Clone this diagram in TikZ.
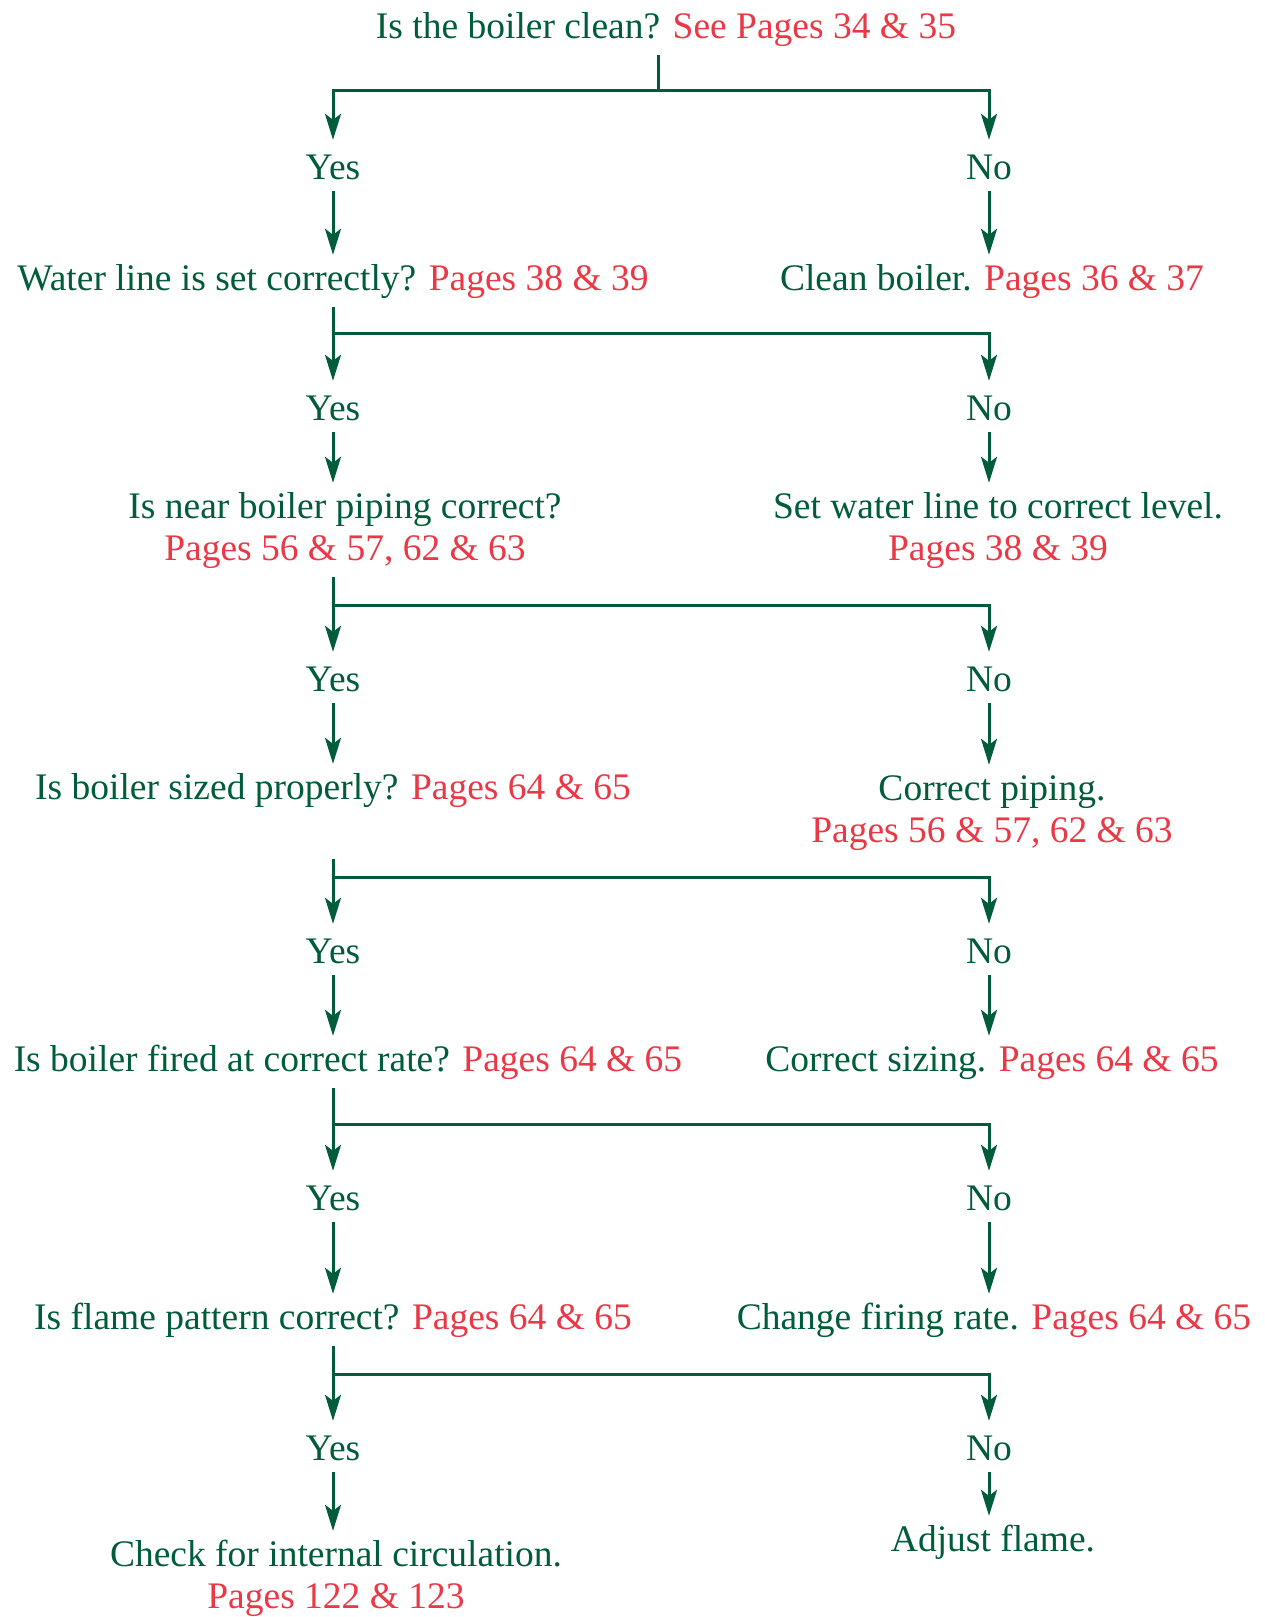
\documentclass[tikz,border=0pt]{standalone}
\usepackage{fontspec}
\setmainfont{Liberation Serif}
\usetikzlibrary{arrows.meta}
\definecolor{flowgreen}{RGB}{0,92,58}
\definecolor{pagered}{RGB}{234,56,70}
\newcommand{\pg}[1]{\textcolor{pagered}{#1}}
\begin{document}
\begin{tikzpicture}[x=1pt,y=-1pt,
  every node/.style={text=flowgreen, font=\fontsize{37.5}{42}\selectfont},
  txt/.style={inner xsep=0pt, inner ysep=8pt, text height=27pt, text depth=9pt, align=center, anchor=base},
  txttwo/.style={txt, text height=69pt},
  yn/.style={inner xsep=0pt, inner ysep=12pt, text height=27pt, text depth=0pt, anchor=base},
  arr/.style={draw=flowgreen, line width=3pt, -{Stealth[length=26pt,width=16pt,inset=6pt]}},
  ln/.style={draw=flowgreen, line width=3pt}]
\useasboundingbox (0,0) rectangle (1264,1617);

% question / answer nodes (two-line nodes sit on their last baseline)
\node[txt] (q0) at (666,38) {Is the boiler clean? \pg{See Pages 34 \& 35}};

\node[yn] (y1) at (333,179) {Yes};
\node[yn] (n1) at (989,179) {No};
\node[txt] (q1) at (333,290) {Water line is set correctly? \pg{Pages 38 \& 39}};
\node[txt] (r1) at (992,290) {Clean boiler. \pg{Pages 36 \& 37}};

\node[yn] (y2) at (333,420) {Yes};
\node[yn] (n2) at (989,420) {No};
\node[txttwo] (q2) at (345,560) {Is near boiler piping correct?\\\pg{Pages 56 \& 57, 62 \& 63}};
\node[txttwo] (r2) at (998,560) {Set water line to correct level.\\\pg{Pages 38 \& 39}};

\node[yn] (y3) at (333,691) {Yes};
\node[yn] (n3) at (989,691) {No};
\node[txt] (q3) at (333,799) {Is boiler sized properly? \pg{Pages 64 \& 65}};
\node[txttwo] (r3) at (992,842) {Correct piping.\\\pg{Pages 56 \& 57, 62 \& 63}};

\node[yn] (y4) at (333,963) {Yes};
\node[yn] (n4) at (989,963) {No};
\node[txt] (q4) at (348,1071) {Is boiler fired at correct rate? \pg{Pages 64 \& 65}};
\node[txt] (r4) at (992,1071) {Correct sizing. \pg{Pages 64 \& 65}};

\node[yn] (y5) at (333,1210) {Yes};
\node[yn] (n5) at (989,1210) {No};
\node[txt] (q5) at (333,1329) {Is flame pattern correct? \pg{Pages 64 \& 65}};
\node[txt] (r5) at (994,1329) {Change firing rate. \pg{Pages 64 \& 65}};

\node[yn] (y6) at (333,1460) {Yes};
\node[yn] (n6) at (989,1460) {No};
\node[txttwo] (q6) at (336,1608) {Check for internal circulation.\\\pg{Pages 122 \& 123}};
\node[txt] (r6) at (993,1551) {Adjust flame.};

% branch junctions
\coordinate (j1) at (658,90);
\coordinate (j2) at (333,333);
\coordinate (j3) at (333,605);
\coordinate (j4) at (333,877);
\coordinate (j5) at (333,1124);
\coordinate (j6) at (333,1374);

% first split
\draw[ln] (q0.south -| j1) -- (j1);
\draw[arr] (j1) -| (y1.north);
\draw[arr] (j1) -| (n1.north);

% answers down to the next question or action
\foreach \i in {1,...,6} {
  \draw[arr] (y\i.south) -- (y\i.south |- q\i.north);
  \draw[arr] (n\i.south) -- (n\i.south |- r\i.north);
}

% splits below each question
\draw[arr] (q1.south -| y2.north) -- (y2.north);
\draw[arr] (j2) -| (n2.north);
\draw[arr] (q2.south -| y3.north) -- (y3.north);
\draw[arr] (j3) -| (n3.north);
\draw[arr] (r3.south -| y4.north) -- (y4.north);
\draw[arr] (j4) -| (n4.north);
\draw[arr] (q4.south -| y5.north) -- (y5.north);
\draw[arr] (j5) -| (n5.north);
\draw[arr] (q5.south -| y6.north) -- (y6.north);
\draw[arr] (j6) -| (n6.north);
\end{tikzpicture}
\end{document}
